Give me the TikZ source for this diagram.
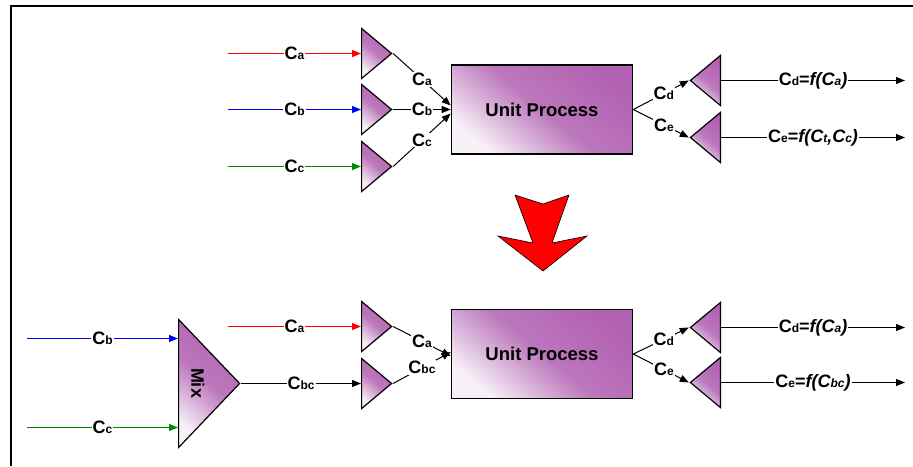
\documentclass[tikz,border=0pt]{standalone}
\usepackage{fontspec}
\setmainfont{Liberation Sans}
\usetikzlibrary{arrows.meta, shapes.geometric, positioning}
\definecolor{cpurple}{HTML}{B262B2}
\definecolor{clight}{HTML}{F7F0F7}
\definecolor{cred}{HTML}{FF0000}
\definecolor{cblue}{HTML}{0000FF}
\definecolor{cgreen}{HTML}{008C00}
\newcommand{\sub}[1]{{\fontsize{12}{12}\selectfont #1}}
\tikzset{
  every picture/.style={font=\bfseries, line width=1pt},
  shaded/.style={shading=axis, top color=cpurple, bottom color=clight, middle color=cpurple!85!clight, shading angle=-40},
  unit/.style={shaded, draw=black, line width=1.6pt, minimum width=181pt, minimum height=89pt, font=\fontsize{18.5}{20}\selectfont\bfseries},
  amp/.style={shaded, draw=black, line width=1.2pt, isosceles triangle, isosceles triangle stretches, minimum width=50pt, minimum height=30pt, inner sep=0pt},
  flow/.style={-{Triangle[length=9pt, width=7pt]}},
  feed/.style={flow, draw=#1},
  lbl/.style={fill=white, inner sep=1pt, font=\fontsize{18}{18}\selectfont\bfseries},
}

\begin{document}
\begin{tikzpicture}[x=1pt, y=-1pt]
  \useasboundingbox (0,0) rectangle (913,466);
  \draw[line width=2pt] (913,6) -- (11,6) -- (11,466);

  % ---- top: three separate feeds
  \node[unit] (up) at (542,109.5) {Unit Process};
  \node[amp, anchor=west] (ta) at (361,53.5)  {};
  \node[amp, anchor=west] (tb) at (361,109.5) {};
  \node[amp, anchor=west] (tc) at (361,166.5) {};
  \node[amp, shape border rotate=180, anchor=east] (td) at (721,80.5)  {};
  \node[amp, shape border rotate=180, anchor=east] (te) at (721,137.5) {};

  \coordinate (sa) at (228,53.5);
  \coordinate (sb) at (228,109.5);
  \coordinate (sc) at (228,166.5);
  \coordinate (ed) at (905,80.5);
  \coordinate (ee) at (905,137.5);

  \draw[feed=cred]   (sa) -- node[lbl] (la) {C\sub{a}} (ta.west);
  \draw[feed=cblue]  (sb) -- node[lbl] (lb) {C\sub{b}} (tb.west);
  \draw[feed=cgreen] (sc) -- node[lbl] (lc) {C\sub{c}} (tc.west);
  \draw[flow] (ta.apex) -- node[lbl] (ia) {C\sub{a}} ([yshift=4pt]up.west);
  \draw[flow] (tb.apex) -- node[lbl] (ib) {C\sub{b}} (tb.apex -| up.west);
  \draw[flow] (tc.apex) -- node[lbl] (ic) {C\sub{c}} ([yshift=-4pt]up.west);
  \draw[flow] (up.east) -- node[lbl, pos=0.55] (od) {C\sub{d}} (td.apex);
  \draw[flow] (up.east) -- node[lbl, pos=0.55] (oe) {C\sub{e}} (te.apex);
  \draw[flow] (td.east) -- node[lbl] (fd) {C\sub{d}=\textit{f(C\sub{a})}} (ed);
  \draw[flow] (te.east) -- node[lbl] (fe) {C\sub{e}=\textit{f(C\sub{t},C\sub{c})}} (ee);

  % ---- big red arrow
  \draw[fill=cred, line width=0.6pt, line join=miter]
    (515,195) -- (543,204) -- (569,195) -- (552,243) -- (587,236)
    -- (543,271) -- (498,236) -- (533,243) -- cycle;

  % ---- bottom: b and c mixed first
  \node[unit] (lo) at (542,354) {Unit Process};
  \node[amp, minimum width=128pt, minimum height=61pt, anchor=west] (mix) at (178,383.5) {};
  \node[font=\fontsize{18}{18}\selectfont\bfseries, rotate=-90] (mixt) at (198,383) {Mix};
  \node[amp, anchor=west] (ba)  at (361,326.5) {};
  \node[amp, anchor=west] (bbc) at (361,383.5) {};
  \node[amp, shape border rotate=180, anchor=east] (bd) at (721,327.5) {};
  \node[amp, shape border rotate=180, anchor=east] (be) at (721,382.5) {};

  \coordinate (xa) at (228,326.5);
  \coordinate (xb) at (27,338.5);
  \coordinate (xc) at (27,427.5);
  \coordinate (yd) at (905,327.5);
  \coordinate (ye) at (905,382.5);

  \draw[feed=cblue]  (xb) -- node[lbl] (mb) {C\sub{b}} (xb -| mix.west);
  \draw[feed=cgreen] (xc) -- node[lbl] (mc) {C\sub{c}} (xc -| mix.west);
  \draw[flow] (mix.apex) -- node[lbl] (mbc) {C\sub{bc}} (bbc.west);
  \draw[feed=cred] (xa) -- node[lbl] (na) {C\sub{a}} (ba.west);
  \draw[flow] (ba.apex)  -- node[lbl] (ja)  {C\sub{a}} ([yshift=-2pt]lo.west);
  \draw[flow] (bbc.apex) -- node[lbl] (jbc) {C\sub{bc}} ([yshift=2pt]lo.west);
  \draw[flow] (lo.east) -- node[lbl, pos=0.55] (pd) {C\sub{d}} (bd.apex);
  \draw[flow] (lo.east) -- node[lbl, pos=0.55] (pe) {C\sub{e}} (be.apex);
  \draw[flow] (bd.east) -- node[lbl] (gd) {C\sub{d}=\textit{f(C\sub{a})}} (yd);
  \draw[flow] (be.east) -- node[lbl] (ge) {C\sub{e}=\textit{f(C\sub{bc})}} (ye);
\end{tikzpicture}
\end{document}
